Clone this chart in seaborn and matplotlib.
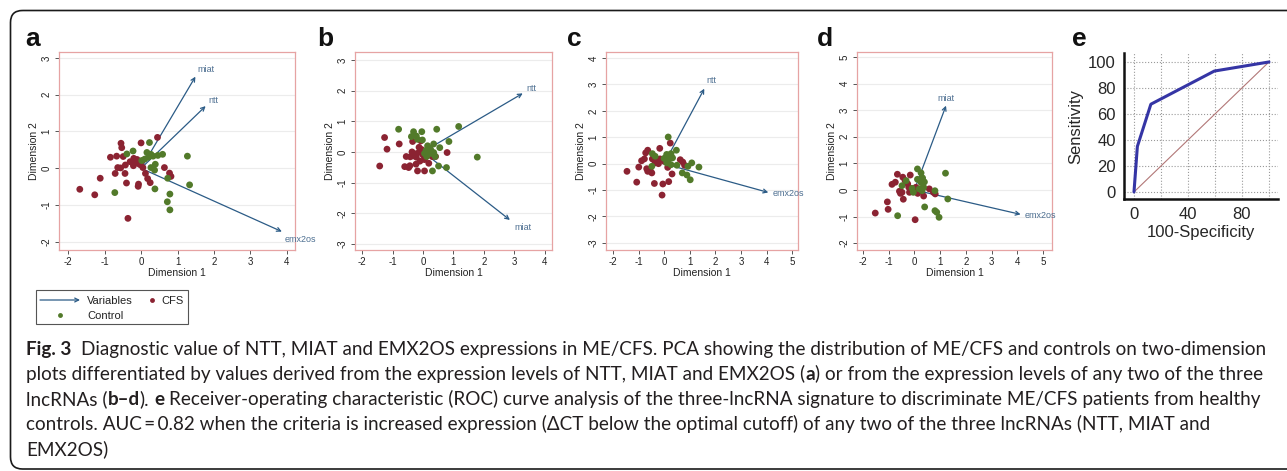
import numpy as np
import pandas as pd
import matplotlib
matplotlib.use("Agg")
import matplotlib.pyplot as plt
import seaborn as sns
from matplotlib.patches import FancyBboxPatch, Rectangle
from matplotlib.ticker import MultipleLocator

# ---------------- data ----------------
a_cfs_x = [-1.68,-1.27,-1.12,-0.84,-0.67,-0.55,-0.53,-0.49,-0.64,-0.56,-0.71,-0.44,-0.40,-0.36,-0.43,-0.20,-0.11,-0.21,-0.09,0.00,-0.07,-0.08,0.05,0.12,0.18,0.25,0.45,0.64,0.78,0.82,-0.03,-0.16,-0.30,0.02]
a_cfs_y = [-0.57,-0.72,-0.27,0.30,0.33,0.68,0.56,0.32,0.02,0.01,-0.14,-0.14,-0.40,-1.36,0.09,0.27,0.24,0.07,0.14,0.69,-0.43,-0.49,0.02,-0.14,-0.28,-0.39,0.84,0.02,-0.13,-0.22,0.10,0.15,0.18,0.20]
a_ctl_x = [-0.39,-0.22,0.23,0.16,0.27,0.33,0.46,0.59,1.27,0.02,0.27,0.37,0.39,-0.72,0.38,0.73,0.79,0.72,0.79,1.33,0.20,0.10]
a_ctl_y = [0.39,0.47,0.70,0.43,0.38,0.33,0.35,0.38,0.33,0.21,0.02,-0.05,0.11,-0.66,-0.56,-0.27,-0.70,-0.91,-1.13,-0.45,0.30,0.25]
a_vars = ["miat", "ntt", "emx2os"]
a_vec_x = [1.49, 1.77, 3.86]
a_vec_y = [2.49, 1.69, -1.72]

b_cfs_x = [-1.26,-1.18,-1.42,-0.78,-0.55,-0.60,-0.47,-0.43,-0.23,-0.18,0.05,-0.34,-0.07,-0.42,-0.33,-0.22,-0.36,-0.13,-0.10,0.00,0.05,-0.10,0.19,0.30,0.41,0.79,-0.20,0.10,-0.05,0.20]
b_cfs_y = [0.47,0.09,-0.46,0.26,-0.15,-0.48,-0.51,-0.45,-0.40,-0.62,-0.62,0.34,0.36,-0.16,-0.13,-0.17,0.00,0.15,0.00,-0.10,-0.25,-0.30,-0.37,-0.15,-0.15,-0.02,-0.05,-0.05,0.08,0.10]
b_ctl_x = [-0.80,-0.31,-0.04,0.45,1.17,-0.38,-0.22,-0.18,-0.02,0.35,0.55,0.85,1.78,0.51,0.77,0.31,0.10,0.18,0.22,0.27,0.12,0.35,0.40,0.05,0.25,0.15]
b_ctl_y = [0.74,0.66,0.66,0.74,0.83,0.50,0.52,0.41,0.39,0.26,0.14,0.34,-0.17,-0.46,-0.51,-0.62,0.05,0.00,0.12,-0.05,-0.15,-0.02,-0.15,-0.05,0.08,0.20]
b_vars = ["ntt", "miat"]
b_vec_x = [3.27, 2.85]
b_vec_y = [1.91, -2.22]

c_cfs_x = [-1.45,-1.07,-0.99,-0.88,-0.77,-0.72,-0.64,-0.68,-0.64,-0.55,-0.46,-0.35,-0.29,-0.22,-0.38,-0.17,-0.05,-0.08,0.18,0.31,0.24,0.14,-0.16,0.00,0.08,0.63,0.73,0.80,-0.48]
c_cfs_y = [-0.29,-0.70,-0.13,0.11,0.18,0.41,0.51,-0.19,-0.29,-0.23,0.18,0.03,0.09,0.00,-0.75,0.58,-0.77,-1.19,-0.68,-0.39,0.78,-0.14,0.18,0.09,0.25,0.15,0.06,-0.06,-0.35]
c_ctl_x = [0.16,0.48,-0.46,-0.35,-0.48,0.00,0.10,0.18,0.27,0.33,0.20,0.10,0.27,0.50,0.71,0.93,1.08,0.89,1.02,1.36]
c_ctl_y = [1.01,0.51,0.38,0.28,-0.10,0.20,0.35,0.30,0.38,0.22,0.18,0.03,-0.04,-0.06,-0.35,-0.10,0.03,-0.43,-0.61,-0.13]
c_vars = ["ntt", "emx2os"]
c_vec_x = [1.57, 4.07]
c_vec_y = [2.84, -1.09]

d_cfs_x = [-1.52,-1.02,-1.05,-0.87,-0.74,-0.66,-0.58,-0.54,-0.48,-0.45,-0.36,-0.43,-0.26,-0.22,-0.19,-0.16,0.03,0.13,0.19,0.26,0.36,0.58,0.74,0.81,-0.04,0.06]
d_cfs_y = [-0.87,-0.73,-0.45,0.21,0.29,0.59,-0.05,-0.13,-0.09,0.48,0.35,-0.35,0.23,0.10,-0.09,0.56,-1.12,-0.13,-0.03,0.04,-0.23,0.04,-0.09,-0.15,0.00,0.10]
d_ctl_x = [0.12,0.26,1.21,-0.32,-0.48,-0.09,-0.04,0.12,0.26,0.32,0.39,0.36,0.30,0.19,0.80,1.30,0.40,-0.65,0.80,0.87,0.96]
d_ctl_y = [0.79,0.64,0.63,0.35,0.16,0.06,-0.09,0.40,0.28,0.45,0.30,0.10,-0.03,0.04,-0.03,-0.34,-0.64,-0.97,-0.78,-0.84,-1.03]
d_vars = ["miat", "emx2os"]
d_vec_x = [1.23, 4.13]
d_vec_y = [3.17, -0.92]

roc_fpr = [0, 2.5, 12.5, 59.5, 100]
roc_tpr = [0, 35, 67.5, 93, 100]

groups = ["CFS", "Control"]
x_ticks_ab = [-2, -1, 0, 1, 2, 3, 4]
x_ticks_cd = [-2, -1, 0, 1, 2, 3, 4, 5]
y_ticks_a = [-2, -1, 0, 1, 2, 3]
y_ticks_b = [-3, -2, -1, 0, 1, 2, 3]
y_ticks_c = [-3, -2, -1, 0, 1, 2, 3, 4]
y_ticks_d = [-2, -1, 0, 1, 2, 3, 4, 5]
roc_ticks = [0, 20, 40, 60, 80, 100]
roc_x_labels = ["0", "", "40", "", "80", ""]

caption_lines = [
    [("Fig. 3", True), ("  Diagnostic value of NTT, MIAT and EMX2OS expressions in ME/CFS. PCA showing the distribution of ME/CFS and controls on two-dimension", False)],
    [("plots differentiated by values derived from the expression levels of NTT, MIAT and EMX2OS (", False), ("a", True), (") or from the expression levels of any two of the three", False)],
    [("lncRNAs (", False), ("b\u2013d", True), ("). ", False), ("e", True), (" Receiver-operating characteristic (ROC) curve analysis of the three-lncRNA signature to discriminate ME/CFS patients from healthy", False)],
    [("controls. AUC\u2009=\u20090.82 when the criteria is increased expression (\u0394CT below the optimal cutoff) of any two of the three lncRNAs (NTT, MIAT and", False)],
    [("EMX2OS)", False)],
]

# ---------------- style ----------------
sns.set_style("white")
plt.rcParams["font.family"] = ["Liberation Sans", "DejaVu Sans"]

W, H, DPI = 1287, 471, 100
fig = plt.figure(figsize=(W / DPI, H / DPI), dpi=DPI)
fig.patch.set_facecolor("white")

ov = fig.add_axes([0, 0, 1, 1], zorder=0)
ov.set_xlim(0, W)
ov.set_ylim(H, 0)
ov.axis("off")

def rect(l, t, r, b):
    return [l / W, 1 - b / H, (r - l) / W, (b - t) / H]

RED = "#8b2332"
GREEN = "#527a2a"
ARROW = "#2b5b86"
LABEL = "#4d6f91"
BOX = "#e6a3a3"
palette = {"CFS": RED, "Control": GREEN}

panels = [
    dict(pos=rect(59, 52, 295, 250), xlim=(-2.25, 4.22), ylim=(-2.22, 3.16),
         xt=x_ticks_ab, yt=y_ticks_a,
         cfs=(a_cfs_x, a_cfs_y), ctl=(a_ctl_x, a_ctl_y),
         vars=a_vars, vx=a_vec_x, vy=a_vec_y,
         offs=[(2, 7, "left"), (3, 6, "left"), (3, -8, "left")]),
    dict(pos=rect(355, 52, 552, 250), xlim=(-2.23, 4.23), ylim=(-3.2, 3.26),
         xt=x_ticks_ab, yt=y_ticks_b,
         cfs=(b_cfs_x, b_cfs_y), ctl=(b_ctl_x, b_ctl_y),
         vars=b_vars, vx=b_vec_x, vy=b_vec_y,
         offs=[(4, 5, "left"), (4, -8, "left")]),
    dict(pos=rect(606, 52, 798, 250), xlim=(-2.27, 5.23), ylim=(-3.27, 4.23),
         xt=x_ticks_cd, yt=y_ticks_c,
         cfs=(c_cfs_x, c_cfs_y), ctl=(c_ctl_x, c_ctl_y),
         vars=c_vars, vx=c_vec_x, vy=c_vec_y,
         offs=[(2, 8, "left"), (4, -1, "left")]),
    dict(pos=rect(857, 52, 1052, 250), xlim=(-2.23, 5.35), ylim=(-2.26, 5.19),
         xt=x_ticks_cd, yt=y_ticks_d,
         cfs=(d_cfs_x, d_cfs_y), ctl=(d_ctl_x, d_ctl_y),
         vars=d_vars, vx=d_vec_x, vy=d_vec_y,
         offs=[(0, 7, "center"), (4, -1, "left")]),
]

for p in panels:
    ax = fig.add_axes(p["pos"], zorder=2)
    df = pd.DataFrame({
        "x": list(p["cfs"][0]) + list(p["ctl"][0]),
        "y": list(p["cfs"][1]) + list(p["ctl"][1]),
        "group": [groups[0]] * len(p["cfs"][0]) + [groups[1]] * len(p["ctl"][0]),
    })
    for name, tx, ty, (dx, dy, ha) in zip(p["vars"], p["vx"], p["vy"], p["offs"]):
        ax.annotate("", xy=(tx, ty), xytext=(0, 0),
                    arrowprops=dict(arrowstyle="->", color=ARROW, lw=0.9,
                                    shrinkA=0, shrinkB=0, mutation_scale=7),
                    zorder=2)
        ax.annotate(name, xy=(tx, ty), xytext=(dx * 0.72, dy * 0.72),
                    textcoords="offset points", ha=ha, va="center",
                    fontsize=6.5, color=LABEL, zorder=4)
    sns.scatterplot(data=df, x="x", y="y", hue="group", palette=palette,
                    s=24, edgecolor="none", linewidth=0, legend=False,
                    ax=ax, zorder=3)
    ax.set_xlim(*p["xlim"])
    ax.set_ylim(*p["ylim"])
    ax.set_xticks(p["xt"])
    ax.set_yticks(p["yt"])
    ax.set_xticklabels([str(v) for v in p["xt"]])
    ax.set_yticklabels([str(v) for v in p["yt"]], rotation=90, va="center")
    ax.yaxis.grid(True, color="#ececec", lw=0.8)
    ax.set_axisbelow(True)
    for s in ax.spines.values():
        s.set_color(BOX)
        s.set_linewidth(0.9)
    ax.tick_params(axis="both", length=3.2, width=0.7, color="#555555",
                   labelsize=7, pad=2, labelcolor="#222222",
                   bottom=True, left=True)
    ax.set_xlabel("Dimension 1", fontsize=7.5, labelpad=0.5, color="#222222")
    ax.set_ylabel("Dimension 2", fontsize=7.5, labelpad=2, color="#222222")

# ---------------- panel e: ROC ----------------
axe = fig.add_axes(rect(1124, 53, 1278, 199), zorder=2)
roc_df = pd.DataFrame({"fpr": roc_fpr, "tpr": roc_tpr})
axe.plot([0, 100], [0, 100], color="#b27777", lw=0.8, zorder=2)
sns.lineplot(data=roc_df, x="fpr", y="tpr", color="#3535a5", lw=2.2,
             ax=axe, zorder=3, sort=False)
axe.set_xlim(-7.4, 106.7)
axe.set_ylim(-5.4, 106.9)
axe.set_xticks(roc_ticks)
axe.set_xticklabels(roc_x_labels)
axe.set_yticks(roc_ticks)
axe.set_yticklabels([str(v) for v in roc_ticks])
axe.xaxis.set_minor_locator(MultipleLocator(5))
axe.yaxis.set_minor_locator(MultipleLocator(5))
axe.grid(True, which="major", color="#9a9a9a", lw=0.8, ls=":")
axe.set_axisbelow(True)
for side in ["top", "right"]:
    axe.spines[side].set_visible(False)
for side in ["left", "bottom"]:
    axe.spines[side].set_linewidth(1.8)
    axe.spines[side].set_color("#111111")
axe.tick_params(which="major", direction="in", length=5, width=1.2,
                labelsize=12, pad=6, color="#111111")
axe.tick_params(which="minor", direction="in", length=2.5, width=0.9,
                color="#111111")
axe.set_xlabel("100-Specificity", fontsize=12, labelpad=2)
axe.set_ylabel("Sensitivity", fontsize=12, labelpad=3)

# ---------------- overlay: frame, letters, legend, caption ----------------
frame = FancyBboxPatch((10.5, 10.5), 1300, 458.5,
                       boxstyle="round,pad=0,rounding_size=12",
                       fc="none", ec="#1a1a1a", lw=1.2)
ov.add_patch(frame)

for letter, lx in zip(["a", "b", "c", "d", "e"], [25, 317, 567, 817, 1072]):
    ov.text(lx, 46, letter, fontsize=19, fontweight="bold", ha="left",
            va="baseline", color="#111111")

# legend
ov.add_patch(Rectangle((35.5, 289.5), 152.5, 34.5, fc="white", ec="#555555", lw=0.8))
ov.annotate("", xy=(80, 300), xytext=(40, 300),
            arrowprops=dict(arrowstyle="->", color=ARROW, lw=0.9,
                            shrinkA=0, shrinkB=0, mutation_scale=7))
ov.text(87, 300.5, "Variables", fontsize=8, va="center", ha="left", color="#222222")
ov.plot([152], [300], "o", color=RED, ms=3.5, mec="none")
ov.text(161, 300.5, "CFS", fontsize=8, va="center", ha="left", color="#222222")
ov.plot([60], [315], "o", color=GREEN, ms=3.5, mec="none")
ov.text(87, 316, "Control", fontsize=8, va="center", ha="left", color="#222222")

# caption
CAP_FONT = ["Lato", "DejaVu Sans"]
fig.canvas.draw()
renderer = fig.canvas.get_renderer()

def width_of(s, size, bold):
    if s == "":
        return 0.0
    t = ov.text(0, 100, s, fontsize=size, family=CAP_FONT,
                fontweight="bold" if bold else "normal")
    w = t.get_window_extent(renderer).width
    t.remove()
    return w

def run_width(s, size, bold):
    core = s.strip(" ")
    lead = len(s) - len(s.lstrip(" "))
    trail = len(s) - len(s.rstrip(" "))
    sp = width_of("a a", size, bold) - width_of("aa", size, bold)
    return lead * sp, width_of(core, size, bold), trail * sp, core

base = 13.0
w1 = sum(sum(run_width(s, base, b)[:3]) for s, b in caption_lines[0])
cap_size = base * (1237.0 / w1)

baselines = [355, 380, 405, 430, 455]
for line, yb in zip(caption_lines, baselines):
    x = 26.0
    for s, b in line:
        lead, core_w, trail, core = run_width(s, cap_size, b)
        ov.text(x + lead, yb, core, fontsize=cap_size, family=CAP_FONT,
                fontweight="bold" if b else "normal", ha="left",
                va="baseline", color="#231f20")
        x += lead + core_w + trail

fig.savefig("out.png", dpi=DPI)
